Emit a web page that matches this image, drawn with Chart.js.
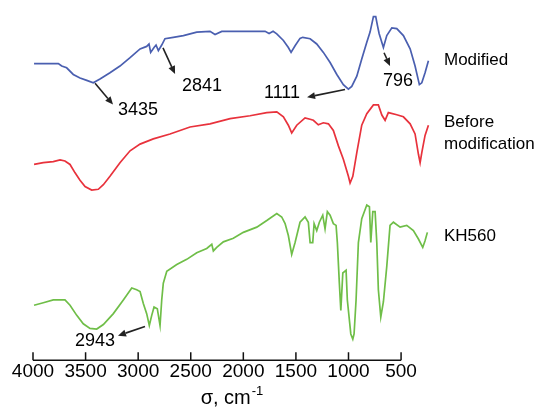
<!DOCTYPE html>
<html>
<head>
<meta charset="utf-8">
<script src="https://cdn.jsdelivr.net/npm/chart.js@4.4.1/dist/chart.umd.min.js"></script>
<style>
  body { margin: 0; background: #fff; }
  #spectra { display: block; }
</style>
</head>
<body>
<canvas id="spectra" width="544" height="412"></canvas>
<script>
// wavenumber ticks, cm-1
const xTicks = [4000, 3500, 3000, 2500, 2000, 1500, 1000, 500];

const seriesNames = ['Modified', 'Before modification', 'KH560'];

// Modified
const modifiedWn = [3990,3759,3727,3680,3617,3553,3489,3427,3363,3268,3173,3077,2982,2919,2897,2881,2849,2830,2808,2776,
  2745,2666,2570,2443,2317,2269,2205,2031,1793,1755,1717,1682,1619,1572,1546,1508,1461,1435,1365,1302,
  1239,1175,1111,1049,1001,969,921,874,826,795,763,741,725,709,668,636,588,541,478,414,367,326,303,272,240];
const modifiedT = [84.7,84.7,84.0,83.5,81.6,80.6,79.9,79.2,80.3,82.1,84.0,86.4,88.9,89.6,90.3,87.9,89.3,90.0,88.4,90.0,
  91.8,92.2,92.7,93.7,93.9,93.0,93.9,93.9,93.9,93.3,93.9,93.2,91.3,89.3,87.9,89.8,91.9,92.2,91.8,90.3,
  87.9,85.0,81.6,78.7,77.4,78.2,81.1,86.0,90.8,93.7,98.1,98.1,95.6,93.3,89.3,92.7,94.9,94.7,92.7,88.9,84.0,78.7,79.2,82.1,85.5];

// Before modification
const beforeWn = [3990,3902,3807,3743,3696,3648,3600,3553,3505,3442,3379,3331,3268,3173,3077,2982,2856,2697,2507,2317,
  2126,1936,1777,1682,1619,1572,1540,1492,1413,1365,1334,1287,1239,1191,1144,1096,1049,1001,985,959,
  921,874,826,763,716,683,652,621,541,478,414,367,335,319,303,272,240];
const beforeT = [55.9,56.4,56.7,57.2,56.9,55.9,53.5,51.4,49.6,48.6,48.8,50.1,52.5,56.4,59.8,61.7,63.2,64.6,66.6,67.5,
  69.0,69.8,70.7,70.9,69.5,67.1,64.9,67.1,69.2,68.8,68.5,67.2,67.8,67.5,65.6,61.2,57.4,52.5,50.6,52.5,
  59.3,67.1,70.4,72.9,72.9,70.0,68.5,70.7,70.1,69.5,67.5,64.6,58.8,56.4,59.3,64.2,67.1];

// KH560
const khWn = [3990,3902,3807,3696,3648,3584,3522,3458,3394,3331,3236,3141,3061,3014,2982,2951,2919,2894,2871,2849,
  2818,2792,2776,2761,2728,2633,2538,2443,2348,2300,2285,2253,2190,2095,2000,1872,1777,1682,1635,1603,
  1572,1540,1508,1461,1413,1382,1365,1340,1327,1302,1277,1245,1223,1201,1175,1144,1118,1106,1087,1073,
  1054,1023,1011,978,959,947,928,906,874,826,801,788,769,747,731,716,693,668,636,605,
  573,509,446,383,335,294,272,250];
const khT = [15.7,16.4,17.2,17.2,15.7,12.8,10.4,9.1,8.9,10.2,13.3,17.2,20.6,20.1,19.6,16.2,13.3,9.9,12.8,15.2,
  14.7,9.9,17.2,22.0,25.4,27.3,28.8,30.7,31.9,33.1,31.2,32.2,33.8,34.8,36.5,38.0,39.9,41.9,40.9,39.0,
  35.6,30.2,33.6,39.4,40.9,39.4,33.6,33.6,39.0,37.0,39.4,41.4,37.5,42.4,41.4,39.0,38.5,33.6,22.0,14.2,
  24.9,25.7,17.2,7.5,6.0,7.5,17.2,33.6,40.4,44.3,43.8,33.6,42.4,42.4,33.6,20.1,12.3,16.7,26.8,38.5,
  39.4,38.0,38.5,37.0,34.6,32.2,34.1,36.5];

// peak callouts: arrow tail -> head, text anchor (wavenumber, T)
const peakText = ['3435', '2841', '1111', '796', '2943'];
const peakTail = [[3410, 79.1], [2764, 89.2], [1033, 77.3], [662, 87.8], [2935, 9.6]];
const peakHead = [[3239, 73.0], [2649, 81.7], [1394, 75.1], [605, 84.0], [3192, 7.0]];
const peakTextAt = [[3192, 71.5], [2583, 78.2], [1461, 76.2], [671, 79.7], [3220, 5.5]];
const peakAlign = ['left', 'left', 'right', 'left', 'right'];

// series names at right, T position of each text line
const nameLines = [['Modified'], ['Before', 'modification'], ['KH560']];
const nameT = [[85.5], [68.0, 61.6], [35.5]];

const colors = ['#4a5fb0', '#e8323c', '#6fbe48'];
const font = 'Liberation Sans, Arial, sans-serif';

function toXY(wn, t) {
  return wn.map((w, i) => ({ x: w, y: t[i] }));
}

const extras = {
  id: 'extras',
  afterDraw(chart) {
    const { ctx, chartArea, scales: { x, y } } = chart;
    const y0 = chartArea.bottom;
    ctx.save();

    // axis line with inward ticks
    ctx.strokeStyle = '#111';
    ctx.lineWidth = 1.5;
    ctx.beginPath();
    ctx.moveTo(x.getPixelForValue(4000), y0);
    ctx.lineTo(x.getPixelForValue(500), y0);
    xTicks.forEach(v => {
      const px = x.getPixelForValue(v);
      ctx.moveTo(px, y0);
      ctx.lineTo(px, y0 - 8);
    });
    ctx.stroke();

    // axis title with superscript
    ctx.fillStyle = '#000';
    ctx.textBaseline = 'middle';
    ctx.font = '20px ' + font;
    const main = '\u03c3, cm';
    const wMain = ctx.measureText(main).width;
    ctx.font = '13px ' + font;
    const wSup = ctx.measureText('-1').width;
    const cx = (chartArea.left + chartArea.right) / 2;
    const tx = cx - (wMain + wSup) / 2;
    ctx.font = '20px ' + font;
    ctx.textAlign = 'left';
    ctx.fillText(main, tx, 398);
    ctx.font = '13px ' + font;
    ctx.fillText('-1', tx + wMain + 1, 391);

    // peak callouts
    ctx.font = '18px ' + font;
    ctx.strokeStyle = '#222';
    ctx.fillStyle = '#222';
    ctx.lineWidth = 1.6;
    peakText.forEach((txt, i) => {
      const x1 = x.getPixelForValue(peakTail[i][0]), y1 = y.getPixelForValue(peakTail[i][1]);
      const x2 = x.getPixelForValue(peakHead[i][0]), y2 = y.getPixelForValue(peakHead[i][1]);
      const a = Math.atan2(y2 - y1, x2 - x1);
      const len = 8, half = 3.5;
      const bx = x2 - len * Math.cos(a), by = y2 - len * Math.sin(a);
      ctx.beginPath();
      ctx.moveTo(x1, y1);
      ctx.lineTo(bx, by);
      ctx.stroke();
      ctx.beginPath();
      ctx.moveTo(x2, y2);
      ctx.lineTo(bx + half * Math.sin(a), by - half * Math.cos(a));
      ctx.lineTo(bx - half * Math.sin(a), by + half * Math.cos(a));
      ctx.closePath();
      ctx.fill();

      ctx.fillStyle = '#000';
      ctx.textAlign = peakAlign[i];
      ctx.fillText(txt, x.getPixelForValue(peakTextAt[i][0]), y.getPixelForValue(peakTextAt[i][1]));
      ctx.fillStyle = '#222';
    });

    // series names to the right of the curves
    ctx.fillStyle = '#000';
    ctx.textAlign = 'left';
    ctx.font = '17px ' + font;
    nameLines.forEach((lines, i) => {
      lines.forEach((ln, j) => {
        ctx.fillText(ln, chartArea.right + 14, y.getPixelForValue(nameT[i][j]));
      });
    });
    ctx.restore();
  }
};

new Chart(document.getElementById('spectra'), {
  type: 'line',
  data: {
    datasets: [
      { label: seriesNames[0], data: toXY(modifiedWn, modifiedT), borderColor: colors[0] },
      { label: seriesNames[1], data: toXY(beforeWn, beforeT), borderColor: colors[1] },
      { label: seriesNames[2], data: toXY(khWn, khT), borderColor: colors[2] }
    ]
  },
  options: {
    responsive: false,
    animation: false,
    devicePixelRatio: 1,
    layout: { padding: { left: 33, right: 114, top: 10, bottom: 29 } },
    elements: {
      point: { radius: 0 },
      line: { borderWidth: 1.7, tension: 0, fill: false }
    },
    plugins: { legend: { display: false }, tooltip: { enabled: false } },
    scales: {
      x: {
        type: 'linear',
        reverse: true,
        min: 225,
        max: 4000,
        grid: { display: false, drawTicks: false },
        border: { display: false },
        afterBuildTicks: s => { s.ticks = xTicks.map(v => ({ value: v })); },
        ticks: {
          autoSkip: false,
          maxRotation: 0,
          padding: 0,
          color: '#000',
          font: { family: font, size: 19 },
          callback: v => String(v)
        }
      },
      y: { display: false, min: 0, max: 100 }
    }
  },
  plugins: [extras]
});
</script>
</body>
</html>
